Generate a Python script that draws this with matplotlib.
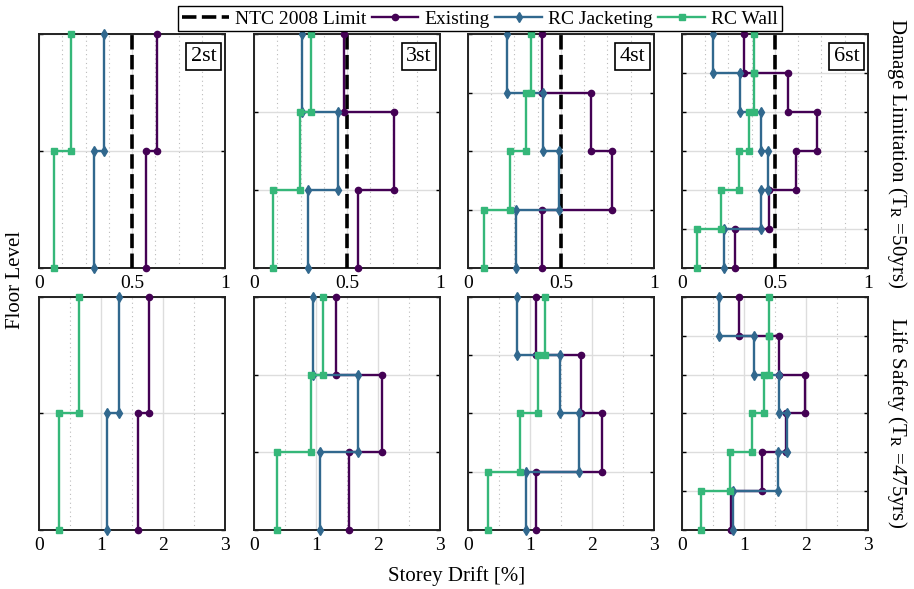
import matplotlib
matplotlib.use("Agg")
import matplotlib.pyplot as plt
from matplotlib.ticker import MultipleLocator
import numpy as np

plt.rcParams['font.family'] = ['Liberation Serif', 'DejaVu Serif']
plt.rcParams['mathtext.fontset'] = 'stix'

storeys = ["2st", "3st", "4st", "6st"]
series_names = ["Existing", "RC Jacketing", "RC Wall"]
ntc_limit = 0.5

# Damage Limitation (top row), drift per storey from ground up
dl_existing = [[0.577, 0.634], [0.557, 0.754, 0.486], [0.397, 0.774, 0.662, 0.400],
               [0.284, 0.470, 0.616, 0.727, 0.571, 0.332]]
dl_jacket = [[0.294, 0.349], [0.290, 0.450, 0.260], [0.259, 0.488, 0.406, 0.212],
             [0.229, 0.423, 0.463, 0.423, 0.314, 0.166]]
dl_wall = [[0.079, 0.170], [0.104, 0.247, 0.308], [0.088, 0.228, 0.311, 0.338],
           [0.080, 0.213, 0.305, 0.359, 0.386, 0.386]]

# Life Safety (bottom row)
ls_existing = [[1.59, 1.77], [1.54, 2.07, 1.32], [1.10, 2.16, 1.83, 1.10],
               [0.80, 1.30, 1.68, 1.99, 1.57, 0.916]]
ls_jacket = [[1.09, 1.29], [1.07, 1.67, 0.957], [0.937, 1.79, 1.49, 0.797],
             [0.825, 1.55, 1.70, 1.56, 1.16, 0.605]]
ls_wall = [[0.317, 0.65], [0.371, 0.925, 1.12], [0.328, 0.845, 1.13, 1.24],
           [0.305, 0.777, 1.13, 1.32, 1.41, 1.41]]

colors = ["#440154", "#31688e", "#35b779"]
markers = ["o", "d", "s"]

fig = plt.figure(figsize=(9.14, 5.89), dpi=100)

lefts = [0.0427, 0.2779, 0.512, 0.746]
w = 0.2035
rows = [(0.545, 0.397, [dl_existing, dl_jacket, dl_wall], 1.0),
        (0.1002, 0.3956, [ls_existing, ls_jacket, ls_wall], 3.0)]


def step(vals):
    n = len(vals)
    x = np.repeat(vals, 2)
    y = np.repeat(np.arange(n + 1), 2)[1:-1]
    return x, y


handles = []
for r, (bot, h, data, xmax) in enumerate(rows):
    for j in range(4):
        ax = fig.add_axes([lefts[j], bot, w, h])
        n = len(data[0][j])
        if r == 0:
            ln, = ax.plot([ntc_limit, ntc_limit], [0, n], color="black", lw=2.6,
                          ls=(0, (4, 1.5)), zorder=3)
            if j == 0:
                handles.append(ln)
        for k in range(3):
            x, y = step(data[k][j])
            l, = ax.plot(x, y, color=colors[k], marker=markers[k], lw=1.7,
                         ms=4.5 if k != 1 else 5.5, clip_on=False, zorder=4 + k)
            if r == 0 and j == 0:
                handles.append(l)
        ax.set_xlim(0, xmax)
        ax.set_ylim(0, n)
        ax.set_yticks(np.arange(n + 1))
        ax.set_yticklabels([])
        if r == 0:
            ax.set_xticks([0, 0.5, 1])
            ax.set_xticklabels(["0", "0.5", "1"])
            ax.xaxis.set_minor_locator(MultipleLocator(0.125))
        else:
            ax.set_xticks([0, 1, 2, 3])
            ax.xaxis.set_minor_locator(MultipleLocator(0.5))
        ax.grid(True, which="major", color="#dddddd", lw=1.0, zorder=0)
        ax.grid(True, which="minor", axis="x", color="#bbbbbb", lw=0.8,
                ls=(0, (1, 3)), zorder=0)
        ax.set_axisbelow(True)
        ax.tick_params(axis="both", which="both", direction="in", length=3,
                       right=True, top=False, labelsize=14, width=1.0)
        ax.tick_params(axis="x", which="both", length=0, pad=5)
        for s in ax.spines.values():
            s.set_linewidth(1.4)
            s.set_color("#222222")
        if r == 0:
            ax.text(0.955, 0.945, storeys[j], transform=ax.transAxes, ha="right",
                    va="top", fontsize=16,
                    bbox=dict(boxstyle="square,pad=0.2", fc="white", ec="black", lw=1.2),
                    zorder=10)

fig.legend(handles, ["NTC 2008 Limit"] + series_names, loc="upper center",
           bbox_to_anchor=(0.525, 0.993), ncol=4, fontsize=14, frameon=True,
           fancybox=False, edgecolor="black", framealpha=1, handlelength=2.4,
           columnspacing=0.3, handletextpad=0.3, borderpad=0.2,
           borderaxespad=0.1).get_frame().set_linewidth(1.0)

fig.text(0.017, 0.525, "Floor Level", rotation=90, ha="center", va="center", fontsize=15)
fig.text(0.5, 0.022, "Storey Drift [%]", ha="center", va="center", fontsize=15)
fig.text(0.981, 0.74, r"Damage Limitation (T$_{\rm R}$ =50yrs)", rotation=270,
         ha="center", va="center", fontsize=15)
fig.text(0.981, 0.283, r"Life Safety (T$_{\rm R}$ =475yrs)", rotation=270,
         ha="center", va="center", fontsize=15)

fig.savefig("out.png", dpi=100)
